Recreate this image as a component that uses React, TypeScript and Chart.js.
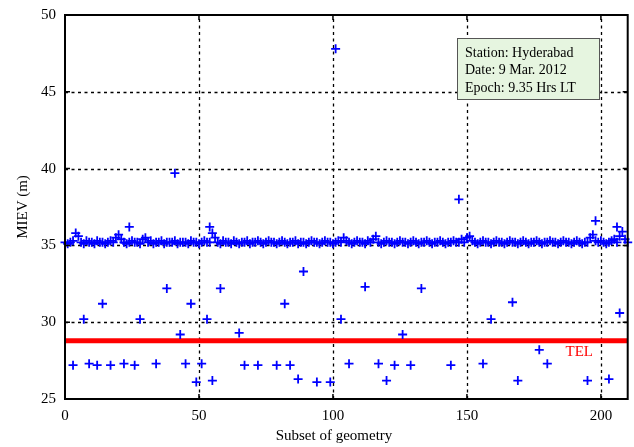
import React, { useEffect, useRef } from "react";
import { Chart, registerables } from "chart.js";

Chart.register(...registerables);

// Band of regular subsets (x = 0..210)
const bandValues: number[] = [
  35.2, 35.1, 35.2, 35.3, 35.8, 35.6, 35.2, 35.1, 35.3, 35.2,
  35.2, 35.1, 35.3, 35.2, 35.2, 35.1, 35.2, 35.3, 35.2, 35.5,
  35.7, 35.4, 35.2, 35.1, 35.2, 35.3, 35.2, 35.2, 35.1, 35.4,
  35.5, 35.2, 35.3, 35.1, 35.2, 35.2, 35.3, 35.1, 35.2, 35.2,
  35.2, 35.3, 35.1, 35.2, 35.2, 35.2, 35.1, 35.3, 35.2, 35.2,
  35.1, 35.2, 35.3, 35.2, 35.2, 35.8, 35.5, 35.2, 35.1, 35.3,
  35.2, 35.2, 35.1, 35.3, 35.2, 35.1, 35.2, 35.2, 35.3, 35.1,
  35.2, 35.2, 35.3, 35.2, 35.1, 35.2, 35.3, 35.2, 35.2, 35.1,
  35.2, 35.3, 35.2, 35.1, 35.2, 35.2, 35.3, 35.1, 35.2, 35.2,
  35.1, 35.2, 35.3, 35.2, 35.2, 35.1, 35.2, 35.3, 35.2, 35.2,
  35.1, 35.2, 35.3, 35.2, 35.5, 35.3, 35.2, 35.1, 35.2, 35.3,
  35.2, 35.2, 35.1, 35.3, 35.2, 35.4, 35.6, 35.2, 35.1, 35.2,
  35.3, 35.2, 35.2, 35.1, 35.2, 35.3, 35.2, 35.2, 35.1, 35.2,
  35.3, 35.2, 35.1, 35.2, 35.2, 35.3, 35.2, 35.1, 35.2, 35.2,
  35.3, 35.2, 35.1, 35.2, 35.2, 35.3, 35.2, 35.2, 35.4, 35.2,
  35.5, 35.6, 35.3, 35.2, 35.1, 35.2, 35.3, 35.2, 35.2, 35.1,
  35.2, 35.3, 35.2, 35.2, 35.1, 35.2, 35.3, 35.2, 35.2, 35.1,
  35.2, 35.3, 35.2, 35.1, 35.2, 35.2, 35.3, 35.2, 35.1, 35.2,
  35.2, 35.3, 35.2, 35.2, 35.1, 35.2, 35.3, 35.2, 35.2, 35.1,
  35.2, 35.3, 35.2, 35.1, 35.2, 35.2, 35.5, 35.7, 35.3, 35.2,
  35.3, 35.2, 35.1, 35.2, 35.3, 35.4, 35.2, 35.6, 35.9, 35.4,
  35.2,
];

// Outlying subsets
const outlierX: number[] = [
  3, 7, 9, 12, 14, 17, 22, 24, 26, 28, 34, 38, 41, 43, 45, 47, 49, 51, 53, 54,
  55, 58, 65, 67, 72, 79, 82, 84, 87, 89, 94, 99, 101, 103, 106, 112, 117, 120,
  123, 126, 129, 133, 144, 147, 156, 159, 167, 169, 177, 180, 195, 198, 203,
  206, 207,
];
const outlierY: number[] = [
  27.2, 30.2, 27.3, 27.2, 31.2, 27.2, 27.3, 36.2, 27.2, 30.2, 27.3, 32.2, 39.7,
  29.2, 27.3, 31.2, 26.1, 27.3, 30.2, 36.2, 26.2, 32.2, 29.3, 27.2, 27.2, 27.2,
  31.2, 27.2, 26.3, 33.3, 26.1, 26.1, 47.8, 30.2, 27.3, 32.3, 27.3, 26.2, 27.2,
  29.2, 27.2, 32.2, 27.2, 38.0, 27.3, 30.2, 31.3, 26.2, 28.2, 27.3, 26.2, 36.6,
  26.3, 36.2, 30.6,
];

const telValue = 28.8;
const telLabel = "TEL";
const xTicks: number[] = [0, 50, 100, 150, 200];
const yTicks: number[] = [25, 30, 35, 40, 45, 50];
const xTitle = "Subset of geometry";
const yTitle = "MIEV (m)";
const infoLines: string[] = [
  "Station: Hyderabad",
  "Date: 9 Mar. 2012",
  "Epoch: 9.35 Hrs LT",
];

const FONT = "'Liberation Serif', 'Times New Roman', serif";

export default function App() {
  const ref = useRef<HTMLCanvasElement | null>(null);

  useEffect(() => {
    document.body.style.margin = "0";
    const canvas = ref.current;
    if (!canvas) return;

    const gridPlugin = {
      id: "dottedGrid",
      beforeDatasetsDraw(chart: any) {
        const ctx = chart.ctx;
        const { left, right, top, bottom } = chart.chartArea;
        const xs = chart.scales.x;
        const ys = chart.scales.y;
        ctx.save();
        ctx.strokeStyle = "#000";
        ctx.lineWidth = 1.3;
        ctx.setLineDash([3, 3.5]);
        xTicks.forEach((v) => {
          const px = Math.round(xs.getPixelForValue(v)) + 0.5;
          if (px <= left + 1 || px >= right - 1) return;
          ctx.beginPath();
          ctx.moveTo(px, bottom);
          ctx.lineTo(px, top);
          ctx.stroke();
        });
        yTicks.forEach((v) => {
          const py = Math.round(ys.getPixelForValue(v)) + 0.5;
          if (py <= top + 1 || py >= bottom - 1) return;
          ctx.beginPath();
          ctx.moveTo(left, py);
          ctx.lineTo(right, py);
          ctx.stroke();
        });
        ctx.restore();
      },
    };

    const overlay = {
      id: "overlay",
      afterDraw(chart: any) {
        const ctx = chart.ctx;
        const { left, right, top, bottom } = chart.chartArea;
        const xs = chart.scales.x;
        const ys = chart.scales.y;
        ctx.save();
        // inward ticks
        ctx.strokeStyle = "#000";
        ctx.lineWidth = 1.5;
        const tl = 5;
        xTicks.forEach((v) => {
          const px = xs.getPixelForValue(v);
          ctx.beginPath();
          ctx.moveTo(px, bottom);
          ctx.lineTo(px, bottom - tl);
          ctx.moveTo(px, top);
          ctx.lineTo(px, top + tl);
          ctx.stroke();
        });
        yTicks.forEach((v) => {
          const py = ys.getPixelForValue(v);
          ctx.beginPath();
          ctx.moveTo(left, py);
          ctx.lineTo(left + tl, py);
          ctx.moveTo(right, py);
          ctx.lineTo(right - tl, py);
          ctx.stroke();
        });
        // border
        ctx.lineWidth = 2;
        ctx.strokeRect(left, top, right - left, bottom - top);

        // titles
        ctx.fillStyle = "#000";
        ctx.font = `15px ${FONT}`;
        ctx.textAlign = "center";
        ctx.textBaseline = "middle";
        ctx.fillText(xTitle, 334, 436);
        ctx.save();
        ctx.translate(23, (top + bottom) / 2);
        ctx.rotate(-Math.PI / 2);
        ctx.fillText(yTitle, 0, 0);
        ctx.restore();

        // TEL label
        ctx.fillStyle = "#ff0000";
        ctx.font = `15px ${FONT}`;
        ctx.textAlign = "left";
        ctx.fillText(telLabel, xs.getPixelForValue(186.8), ys.getPixelForValue(telValue) + 11);

        // info box
        const bx = 457, by = 38, bw = 142, bh = 61;
        ctx.fillStyle = "#e6f5e0";
        ctx.fillRect(bx, by, bw, bh);
        ctx.strokeStyle = "#555";
        ctx.lineWidth = 1;
        ctx.strokeRect(bx + 0.5, by + 0.5, bw, bh);
        ctx.fillStyle = "#000";
        ctx.font = `14px ${FONT}`;
        ctx.textAlign = "left";
        infoLines.forEach((t, i) => {
          ctx.fillText(t, bx + 8, by + 15 + i * 17.5);
        });
        ctx.restore();
      },
    };

    const chart = new Chart(canvas, {
      type: "scatter",
      data: {
        datasets: [
          {
            label: "band",
            data: bandValues.map((y, i) => ({ x: i, y })),
            pointStyle: "cross",
            pointRadius: 4.5,
            borderColor: "#0000ff",
            backgroundColor: "#0000ff",
            pointBorderWidth: 1.8,
            borderWidth: 1.8,
            clip: false,
          } as any,
          {
            label: "outliers",
            data: outlierX.map((x, i) => ({ x, y: outlierY[i] })),
            pointStyle: "cross",
            pointRadius: 4.5,
            borderColor: "#0000ff",
            backgroundColor: "#0000ff",
            pointBorderWidth: 1.8,
            borderWidth: 1.8,
            clip: false,
          } as any,
          {
            type: "line",
            label: telLabel,
            data: [
              { x: 0, y: telValue },
              { x: 210, y: telValue },
            ],
            borderColor: "#ff0000",
            borderWidth: 5,
            pointRadius: 0,
            showLine: true,
            clip: false,
          } as any,
        ],
      },
      options: {
        responsive: false,
        animation: false,
        devicePixelRatio: 1,
        layout: { padding: { top: 15, right: 1, left: 0, bottom: 0 } },
        plugins: { legend: { display: false }, tooltip: { enabled: false } },
        scales: {
          x: {
            type: "linear",
            min: 0,
            max: 210,
            afterBuildTicks: (s: any) => {
              s.ticks = xTicks.map((v) => ({ value: v }));
            },
            afterFit: (s: any) => {
              s.height = 48;
              s.paddingRight = 0;
              s.paddingLeft = 0;
            },
            grid: { display: false, drawTicks: false },
            border: { display: false },
            ticks: {
              color: "#000",
              padding: 8,
              font: { family: FONT, size: 15 },
              maxRotation: 0,
            },
          },
          y: {
            type: "linear",
            min: 25,
            max: 50,
            afterBuildTicks: (s: any) => {
              s.ticks = yTicks.map((v) => ({ value: v }));
            },
            afterFit: (s: any) => {
              s.width = 65;
              s.paddingTop = 0;
              s.paddingBottom = 0;
            },
            grid: { display: false, drawTicks: false },
            border: { display: false },
            ticks: {
              color: "#000",
              padding: 9,
              font: { family: FONT, size: 15 },
            },
          },
        },
      },
      plugins: [gridPlugin, overlay],
    } as any);

    return () => chart.destroy();
  }, []);

  return <canvas ref={ref} width={634} height={447} style={{ display: "block", width: 634, height: 447 }} />;
}
